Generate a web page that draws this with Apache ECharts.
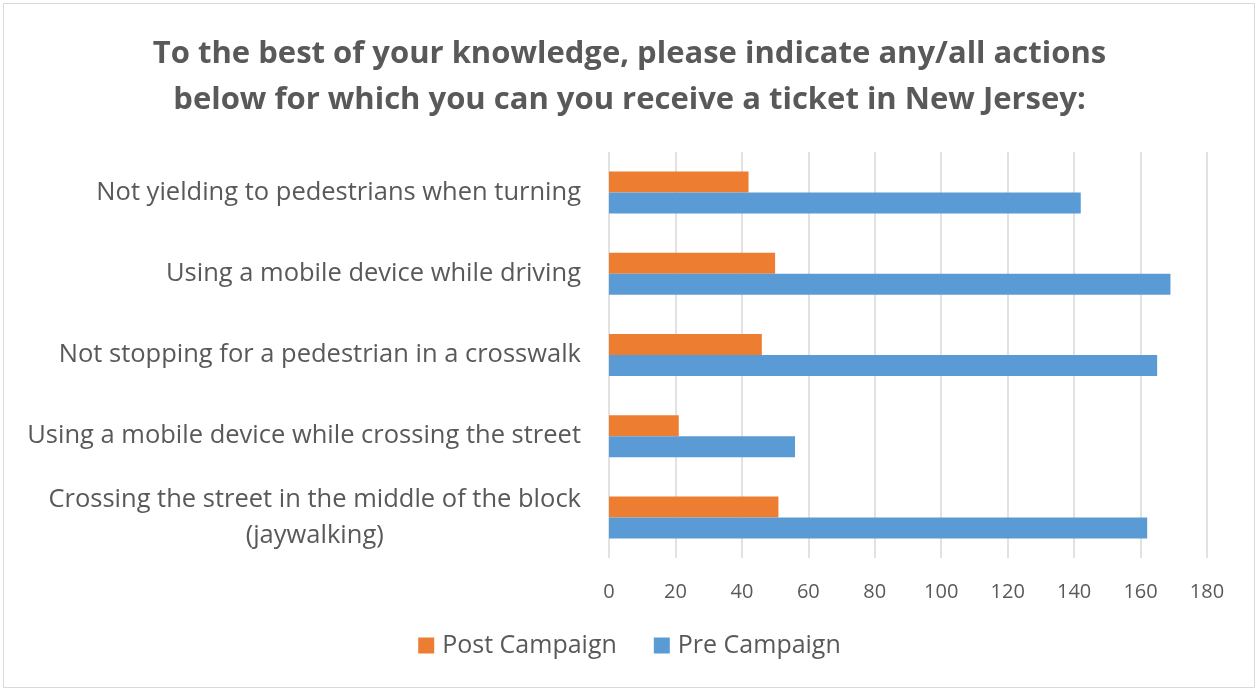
<!DOCTYPE html>
<html>
<head>
<meta charset="utf-8">
<script src="https://cdn.jsdelivr.net/npm/echarts@6/dist/echarts.min.js"></script>
<style>
  html, body { margin: 0; padding: 0; background: #fff; }
  #chart { width: 1259px; height: 691px; }
</style>
</head>
<body>
<div id="chart"></div>
<script>
// Survey actions, listed top to bottom
const categories = [
  'Not yielding to pedestrians when turning',
  'Using a mobile device while driving',
  'Not stopping for a pedestrian in a crosswalk',
  'Using a mobile device while crossing the street',
  'Crossing the street in the middle of the block\n(jaywalking)'
];
const postCampaign = [42, 50, 46, 21, 51];
const preCampaign = [142, 169, 165, 56, 162];
const xTicks = { min: 0, max: 180, interval: 20 };

const textColor = '#595959';
const font = 'Open Sans';
const labelSize = 25.5;

const chart = echarts.init(document.getElementById('chart'));
chart.setOption({
  animation: false,
  title: {
    text: 'To the best of your knowledge, please indicate any/all actions\nbelow for which you can you receive a ticket in New Jersey:',
    left: 'center',
    top: 26,
    textStyle: {
      fontFamily: font,
      fontWeight: 'bold',
      fontSize: 31,
      lineHeight: 46,
      color: textColor
    }
  },
  legend: {
    data: ['Post Campaign', 'Pre Campaign'],
    bottom: 28,
    left: 'center',
    itemWidth: 16,
    itemHeight: 16,
    itemGap: 37,
    icon: 'rect',
    textStyle: { fontFamily: font, fontSize: 25, color: textColor, padding: [0, 0, 0, 3] }
  },
  graphic: [{
    type: 'rect',
    shape: { x: 3.5, y: 3.5, width: 1251, height: 684 },
    style: { fill: 'none', stroke: '#d9d9d9', lineWidth: 1 },
    silent: true
  }],
  grid: { left: 609, right: 52, top: 152, bottom: 133 },
  xAxis: {
    type: 'value',
    min: xTicks.min,
    max: xTicks.max,
    interval: xTicks.interval,
    axisLine: { show: false },
    axisTick: { show: false },
    splitLine: { lineStyle: { color: '#d9d9d9', width: 1.5 } },
    axisLabel: { fontFamily: font, fontSize: 20, color: textColor, margin: 24 }
  },
  yAxis: {
    type: 'category',
    inverse: true,
    data: categories,
    axisLine: { show: false },
    axisTick: { show: false },
    axisLabel: {
      fontFamily: font,
      fontSize: labelSize,
      color: textColor,
      margin: 28,
      lineHeight: 36,
      formatter: function (v) {
        const parts = v.split('\n');
        if (parts.length === 1) return '{a|' + v + '}';
        return '{w|' + parts[0] + '}\n{c|' + parts[1] + '}';
      },
      rich: {
        a: { fontFamily: font, fontSize: labelSize, color: textColor },
        w: { fontFamily: font, fontSize: labelSize, color: textColor, lineHeight: 36 },
        c: { fontFamily: font, fontSize: labelSize, color: textColor, lineHeight: 36, width: 502, align: 'center' }
      }
    }
  },
  series: [
    {
      name: 'Post Campaign',
      type: 'bar',
      data: postCampaign,
      barWidth: 21,
      barGap: '0%',
      itemStyle: { color: '#ed7d31' }
    },
    {
      name: 'Pre Campaign',
      type: 'bar',
      data: preCampaign,
      barWidth: 21,
      barGap: '0%',
      itemStyle: { color: '#5b9bd5' }
    }
  ]
});
</script>
</body>
</html>
